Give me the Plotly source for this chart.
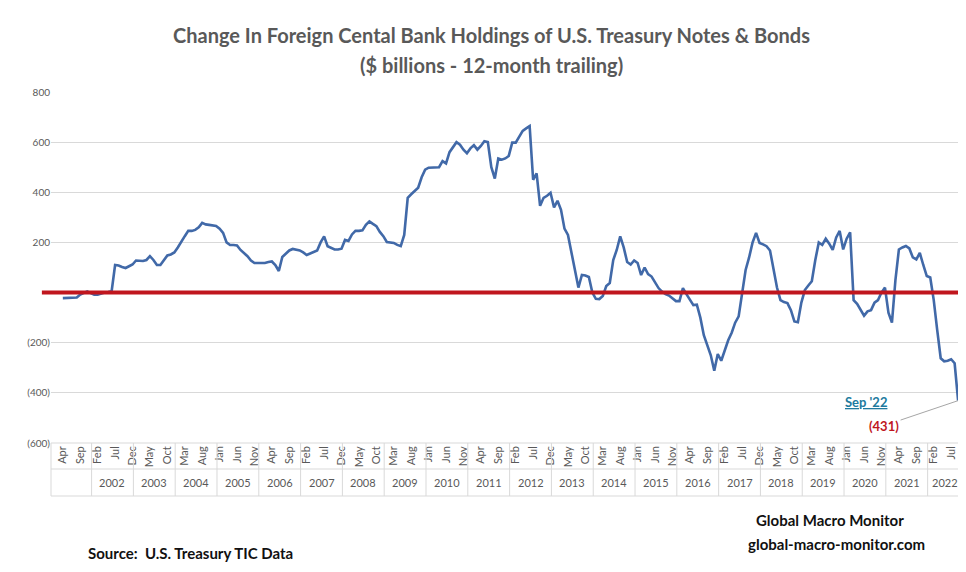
import plotly.graph_objects as go

months = ["Jan","Feb","Mar","Apr","May","Jun","Jul","Aug","Sep","Oct","Nov","Dec"]
start_month = 3  # Apr 2001
values = [
 -22,-22,-22,-22,-20,-8,0,5,-2,-8,-8,-3,0,2,5,110,108,102,98,105,
 112,128,128,126,130,145,130,110,110,130,148,152,160,180,200,225,246,246,250,260,
 278,272,270,268,266,255,238,200,190,190,188,170,158,145,128,118,118,118,118,122,
 124,110,86,142,155,168,174,170,168,160,150,156,162,168,200,224,185,178,172,172,
 175,210,206,232,246,246,248,270,284,274,265,242,225,202,200,198,190,185,230,378,
 392,405,418,460,490,498,498,498,500,524,515,560,578,600,590,570,556,575,588,570,
 585,604,600,500,455,535,530,535,545,598,598,620,645,655,664,450,475,346,378,386,
 398,340,366,330,255,230,160,80,20,70,68,62,0,-25,-26,-14,26,38,130,170,
 224,180,122,112,128,118,70,100,74,64,40,18,4,-6,-12,-22,-34,-34,18,-6,
 -30,-50,-48,-100,-170,-215,-250,-312,-245,-272,-230,-190,-160,-120,-95,-5,90,140,200,238,
 198,192,185,168,90,20,-30,-38,-42,-70,-115,-118,-40,10,28,45,130,200,190,215,
 195,170,220,246,172,215,240,-30,-45,-70,-92,-75,-70,-40,-30,0,20,-80,-120,50,
 172,180,186,176,140,132,158,110,66,60,-30,-150,-262,-274,-272,-266,-282,-431,
]
n = len(values)
idx = list(range(n))
labels = [months[(start_month + i) % 12] for i in idx]
tick_idx = list(range(0, n, 5))
year_labels = [str(y) for y in range(2002, 2023)]
year_start = 8.25  # first year-group divider (category position)

y_ticks = [800, 600, 400, 200, 0, -200, -400, -600]
y_text = ["800", "600", "400", "200", "-", "(200)", "(400)", "(600)"]

L, R, T, B = 43, 11, 84, 137
W, H = 966, 572
PW, PH = W - L - R, H - T - B

def ypx(p):
    return 1 - (p - T) / PH

def xpx(p):
    return (p - L) / PW

fig = go.Figure()
fig.add_trace(go.Scatter(x=idx, y=values, mode="lines",
                         line=dict(color="#4169a8", width=2.6), hoverinfo="skip"))

XR = [-3.4, 258.4]
fig.update_layout(
    width=W, height=H, margin=dict(l=L, r=R, t=T, b=B, autoexpand=False),
    plot_bgcolor="white", paper_bgcolor="white", showlegend=False,
    font=dict(family="Lato", color="#595959"),
    xaxis=dict(range=XR, tickvals=tick_idx, ticktext=[labels[i] for i in tick_idx],
               tickangle=-90, tickfont=dict(size=11, color="#595959"), automargin=False,
               showgrid=False, zeroline=False, ticks="", showline=False),
    yaxis=dict(range=[-600, 800], tickvals=y_ticks, ticktext=y_text, automargin=False,
               tickfont=dict(size=10, color="#595959"), showgrid=True,
               gridcolor="#d9d9d9", zeroline=False, ticks=""),
)

fig.add_shape(type="line", xref="paper", yref="y", x0=-0.01, x1=1.0, y0=0, y1=0,
              line=dict(color="#c0161e", width=4))
fig.add_shape(type="rect", xref="paper", yref="paper", x0=0, x1=1, y0=ypx(488), y1=ypx(435),
              line=dict(color="#d9d9d9", width=1))
fig.add_shape(type="line", xref="paper", yref="paper", x0=0, x1=1, y0=ypx(461), y1=ypx(461),
              line=dict(color="#d9d9d9", width=1))
bounds = [year_start + 12 * k for k in range(len(year_labels))] + [XR[1]]
for k, yl in enumerate(year_labels):
    b = bounds[k]
    fig.add_shape(type="line", xref="x", yref="paper", x0=b, x1=b, y0=ypx(488), y1=ypx(435),
                  line=dict(color="#d9d9d9", width=1))
    fig.add_annotation(x=(b + bounds[k + 1]) / 2, xref="x", y=ypx(475), yref="paper",
                       xanchor="center", yanchor="middle",
                       text=yl, showarrow=False, font=dict(size=11, color="#595959"))

def txt(x, y, t, size, color):
    fig.add_annotation(x=xpx(x), y=ypx(y), xref="paper", yref="paper", xanchor="center",
                       yanchor="middle", text=t, showarrow=False,
                       font=dict(size=size, color=color))

txt(483, 27, "<b>Change In Foreign Cental Bank Holdings of U.S. Treasury Notes & Bonds</b>", 20, "#595959")
txt(483, 57, "<b>($ billions - 12-month trailing)</b>", 20, "#595959")
txt(858, 394, "<b><u>Sep '22</u></b>", 13, "#217a9e")
fig.add_annotation(x=idx[-1], y=values[-1], xref="x", yref="y", ax=-74, ay=25,
                   text="<b>(431)</b>", showarrow=True, arrowhead=0, arrowwidth=1,
                   arrowcolor="#a6a6a6", font=dict(size=13, color="#c0161e"))
txt(822, 512, "<b>Global Macro Monitor</b>", 15, "#111")
txt(828, 536, "<b>global-macro-monitor.com</b>", 15, "#111")
txt(182, 545, "<b>Source:  U.S. Treasury TIC Data</b>", 15, "#111")

fig.write_html("out.html")
